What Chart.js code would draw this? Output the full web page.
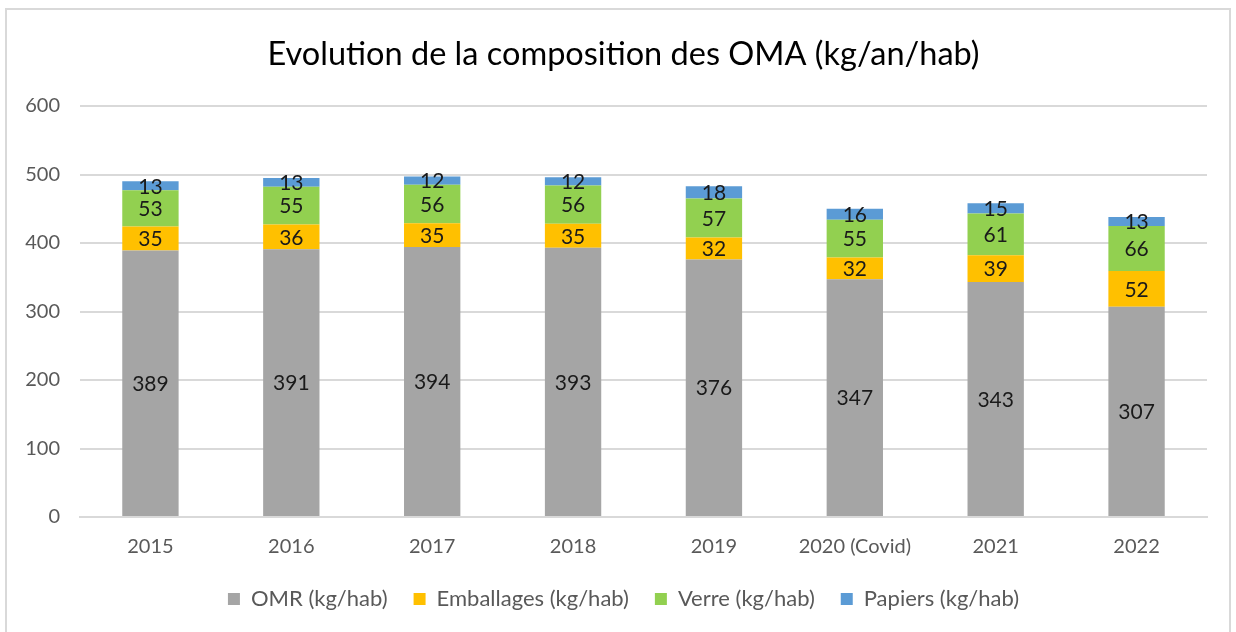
<!DOCTYPE html>
<html>
<head>
<meta charset="utf-8">
<script src="https://cdn.jsdelivr.net/npm/chart.js@4.4.1/dist/chart.umd.min.js"></script>
<style>
  html, body { margin: 0; padding: 0; background: #fff; }
  #wrap { position: absolute; left: 0; top: 0; width: 1236px; height: 632px; }
  #frame { position: absolute; left: 5px; top: 8px; width: 1226px; height: 640px; border: 2px solid #d9d9d9; box-sizing: border-box; }
</style>
</head>
<body>
<div id="wrap">
  <div id="frame"></div>
  <canvas id="chart" width="1236" height="632"></canvas>
</div>
<script>
const annees = ["2015", "2016", "2017", "2018", "2019", "2020 (Covid)", "2021", "2022"];
const omr = [389, 391, 394, 393, 376, 347, 343, 307];
const emballages = [35, 36, 35, 35, 32, 32, 39, 52];
const verre = [53, 55, 56, 56, 57, 55, 61, 66];
const papiers = [13, 13, 12, 12, 18, 16, 15, 13];

const police = "Lato, 'Open Sans', sans-serif";

// etiquettes de valeur au milieu de chaque segment
const etiquettes = {
    id: "etiquettes",
    afterDatasetsDraw(chart) {
        const ctx = chart.ctx;
        ctx.save();
        ctx.font = "21px " + police;
        ctx.fillStyle = "#1a1a1a";
        ctx.textAlign = "center";
        ctx.textBaseline = "middle";
        chart.data.datasets.forEach((ds, i) => {
            const meta = chart.getDatasetMeta(i);
            meta.data.forEach((bar, j) => {
                ctx.fillText(ds.data[j], bar.x, (bar.y + bar.base) / 2 + 1);
            });
        });
        ctx.restore();
    },
};

// titre et legende un peu decales a droite comme dans l'original
const decalage = {
    id: "decalage",
    afterLayout(chart) {
        chart.legend.left += 40;
        chart.titleBlock.left += 40;
    },
};

var ctx = document.querySelector("#chart").getContext("2d");
var chart = new Chart(ctx, {
    type: "bar",
    data: {
        labels: annees,
        datasets: [
            { label: "OMR (kg/hab)", data: omr, backgroundColor: "#a5a5a5" },
            { label: "Emballages (kg/hab)", data: emballages, backgroundColor: "#ffc000" },
            { label: "Verre (kg/hab)", data: verre, backgroundColor: "#92d050" },
            { label: "Papiers (kg/hab)", data: papiers, backgroundColor: "#5b9bd5" },
        ],
    },
    options: {
        responsive: false,
        animation: false,
        barPercentage: 0.4,
        categoryPercentage: 1,
        layout: { padding: { left: 0, right: 29, top: 0, bottom: 12 } },
        scales: {
            x: {
                stacked: true,
                grid: { display: false },
                border: { color: "#d9d9d9", width: 2 },
                ticks: { color: "#595959", font: { family: police, size: 20 }, padding: 10 },
                afterFit: (s) => { s.height = 45; },
            },
            y: {
                stacked: true,
                min: 0,
                max: 600,
                ticks: { stepSize: 100, color: "#595959", font: { family: police, size: 20 }, padding: 20 },
                grid: { color: "#d9d9d9", lineWidth: 2, drawTicks: false },
                border: { display: false },
                afterFit: (s) => { s.width = 80; },
            },
        },
        plugins: {
            title: {
                display: true,
                text: "Evolution de la composition des OMA (kg/an/hab)",
                color: "#000",
                font: { family: police, size: 32.5, weight: "normal" },
                padding: { top: 35, bottom: 32 },
            },
            legend: {
                position: "bottom",
                labels: {
                    color: "#595959",
                    font: { family: police, size: 22 },
                    boxWidth: 12,
                    boxHeight: 12,
                    padding: 26,
                },
            },
            tooltip: { enabled: false },
        },
    },
    plugins: [etiquettes, decalage],
});
</script>
</body>
</html>
